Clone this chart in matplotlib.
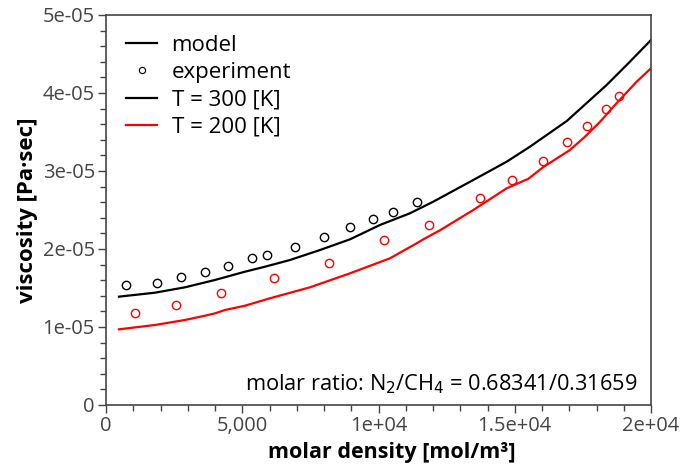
import matplotlib
matplotlib.use("Agg")
import matplotlib.pyplot as plt
from matplotlib.ticker import MultipleLocator, FuncFormatter

plt.rcParams['font.family'] = ['Open Sans', 'DejaVu Sans']

# model curves
rho_300 = [477, 1800, 2900, 4000, 5100, 5835, 6752, 7853, 8954, 10055, 11156, 12012, 13479, 14703,
           15560, 16906, 18373, 19107, 20000]
model_300 = [1.389e-5, 1.440e-5, 1.509e-5, 1.603e-5, 1.709e-5, 1.773e-5, 1.859e-5, 1.987e-5, 2.124e-5,
             2.308e-5, 2.458e-5, 2.607e-5, 2.885e-5, 3.119e-5, 3.312e-5, 3.640e-5, 4.103e-5, 4.359e-5, 4.679e-5]
rho_200 = [477, 1800, 2900, 3633, 4000, 4367, 5101, 6018, 7486, 8954, 10422, 11401, 11646, 12257, 13479,
           14703, 15497, 16048, 17028, 17578, 18128, 18740, 19474, 20000]
model_200 = [0.970e-5, 1.026e-5, 1.090e-5, 1.145e-5, 1.175e-5, 1.218e-5, 1.273e-5, 1.368e-5, 1.509e-5,
             1.688e-5, 1.881e-5, 2.073e-5, 2.124e-5, 2.240e-5, 2.500e-5, 2.778e-5, 2.900e-5, 3.050e-5,
             3.270e-5, 3.440e-5, 3.630e-5, 3.870e-5, 4.145e-5, 4.317e-5]

# experiment points
exp_rho_300 = [723, 1872, 2741, 3621, 4489, 5370, 5896, 6936, 8000, 8942, 9786, 10544, 11413]
exp_mu_300 = [1.54e-5, 1.57e-5, 1.64e-5, 1.71e-5, 1.78e-5, 1.89e-5, 1.92e-5, 2.03e-5, 2.15e-5, 2.28e-5,
              2.38e-5, 2.47e-5, 2.60e-5]
exp_rho_200 = [1076, 2557, 4232, 6165, 8196, 10190, 11853, 13725, 14887, 16037, 16917, 17662, 18336, 18826]
exp_mu_200 = [1.18e-5, 1.28e-5, 1.44e-5, 1.63e-5, 1.82e-5, 2.12e-5, 2.31e-5, 2.66e-5, 2.88e-5, 3.13e-5,
              3.37e-5, 3.58e-5, 3.80e-5, 3.96e-5]

fig = plt.figure(figsize=(6.86, 4.70), dpi=100)
ax = fig.add_axes([106/686, 65/470, 545/686, 390/470])

ax.plot(rho_300, model_300, color='black', lw=1.6)
ax.plot(rho_200, model_200, color='red', lw=1.6)
ax.plot(exp_rho_300, exp_mu_300, 'o', mfc='none', mec='black', ms=6, mew=1.0)
ax.plot(exp_rho_200, exp_mu_200, 'o', mfc='none', mec='red', ms=6, mew=1.0)

# legend proxies
h1, = ax.plot([], [], color='black', lw=1.6)
h2, = ax.plot([], [], 'o', mfc='none', mec='black', ms=4.5, mew=0.8)
h3, = ax.plot([], [], color='black', lw=1.6)
h4, = ax.plot([], [], color='red', lw=1.6)
ax.legend([h1, h2, h3, h4], ['model', 'experiment', 'T = 300 [K]', 'T = 200 [K]'],
          loc='upper left', frameon=False, fontsize=16, handlelength=1.4,
          labelspacing=0.28, borderaxespad=0.5, handletextpad=0.65)

ax.set_xlim(0, 20000)
ax.set_ylim(0, 5e-5)
ax.xaxis.set_major_locator(MultipleLocator(5000))
ax.xaxis.set_minor_locator(MultipleLocator(1000))
ax.yaxis.set_major_locator(MultipleLocator(1e-5))
ax.yaxis.set_minor_locator(MultipleLocator(2e-6))

xlabels = {0: '0', 5000: '5,000', 10000: '1e+04', 15000: '1.5e+04', 20000: '2e+04'}
ax.xaxis.set_major_formatter(FuncFormatter(lambda v, p: xlabels.get(int(round(v)), '')))
ax.yaxis.set_major_formatter(FuncFormatter(lambda v, p: '0' if abs(v) < 1e-12 else '%de-05' % round(v * 1e5)))

ax.tick_params(which='both', direction='out', colors='#444444', labelsize=14.5, labelcolor='#444444')
ax.tick_params(which='major', length=6, width=1, pad=2)
ax.tick_params(which='minor', length=4, width=1)
for s in ax.spines.values():
    s.set_color('#444444')
    s.set_linewidth(1.2)

ax.set_xlabel('molar density [mol/m³]', fontsize=15.5, fontweight='bold')
ax.xaxis.set_label_coords(0.524, -0.095)
ax.set_ylabel('viscosity [Pa·sec]', fontsize=16, fontweight='bold', labelpad=3)

ax.text(0.975, 0.022, 'molar ratio: N$_2$/CH$_4$ = 0.68341/0.31659', transform=ax.transAxes,
        ha='right', va='bottom', fontsize=15.7)

fig.savefig('out.png', dpi=100)
